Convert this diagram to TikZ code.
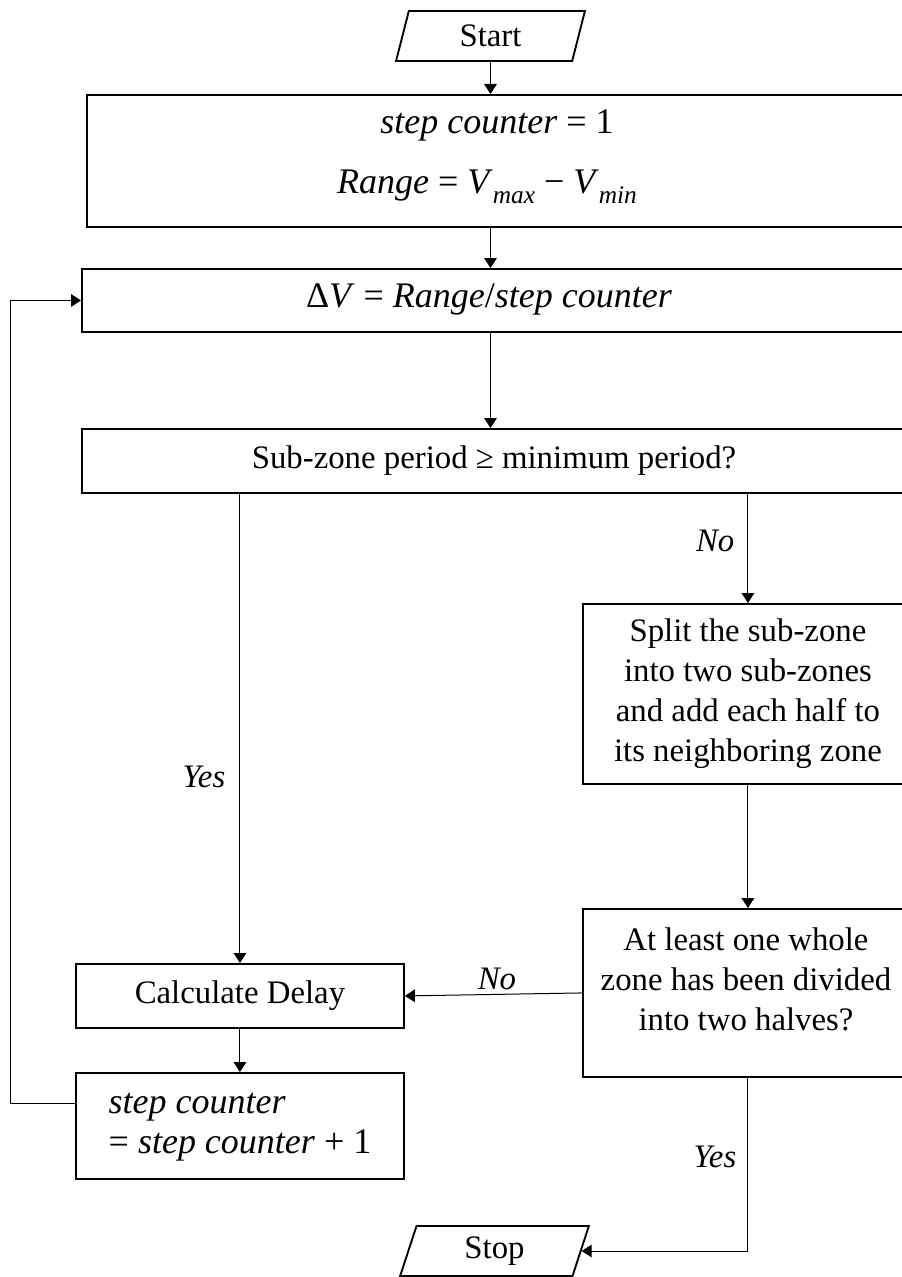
\documentclass[tikz,border=0pt]{standalone}
\usepackage{fontspec}
\setmainfont{Liberation Serif}
\usetikzlibrary{shapes.geometric,arrows.meta,calc}
\newcommand\mysub[1]{\raisebox{-0.25em}{\fontsize{19}{22}\selectfont\itshape #1}}
\begin{document}
\begin{tikzpicture}[x=0.75pt,y=-0.75pt,
  box/.style={draw, line width=1.4pt, rectangle, inner sep=0pt, anchor=north west},
  txt/.style={font=\fontsize{24.6}{30}\selectfont},
  mtxt/.style={font=\fontsize{27}{32}\selectfont},
  lbl/.style={font=\fontsize{24.6}{30}\selectfont\itshape},
  io/.style={draw, line width=1.4pt, trapezium, trapezium left angle=77.6,
    trapezium right angle=102.4, trapezium stretches=true,
    minimum width=141.75pt, minimum height=37.5pt, inner sep=0pt,
    font=\fontsize{24.6}{30}\selectfont},
  arr/.style={line width=0.75pt, -{Triangle[length=7.5pt,width=9.5pt]}}]
\useasboundingbox (0,0) rectangle (902,1277);
\clip (0,0) rectangle (902,1277);

% boxes
\node[io] (start) at (490.5,36) {Start};
\node[box, minimum width=619.5pt, minimum height=99pt] (init) at (86,94) {};
\node[box, minimum width=623.25pt, minimum height=47.25pt] (dv) at (81,268) {};
\node[box, minimum width=623.25pt, minimum height=48pt] (cond1) at (81,428) {};
\node[box, minimum width=247.5pt, minimum height=135pt, txt, align=center] (split) at (582,603)
  {Split the sub-zone\\into two sub-zones\\and add each half to\\its neighboring zone};
\node[box, minimum width=247.5pt, minimum height=126pt] (cond2) at (582,908) {};
\node[box, minimum width=246pt, minimum height=48pt, txt] (calc) at (75,963) {Calculate Delay};
\node[box, minimum width=246pt, minimum height=79.5pt] (inc) at (75,1072) {};
\node[io] (stop) at (494.5,1251) {Stop};

% texts
\node[mtxt, anchor=base] (t1a) at (497,134) {\textit{step counter} = 1};
\node[mtxt, anchor=base] (t1b) at (487,194) {\textit{Range} = \textit{V}\mysub{max} − \textit{V}\mysub{min}};
\node[mtxt, anchor=base] (t2) at (489,307) {Δ\textit{V} = \textit{Range}/\textit{step counter}};
\node[txt, anchor=base] (t3) at (494,468) {Sub-zone period ≥ minimum period?};
\node[txt, align=center] (t5) at (746,979) {At least one whole\\zone has been divided\\into two halves?};
\node[mtxt, anchor=base west] (t6a) at (104,1113) {\textit{step counter}};
\node[mtxt, anchor=base west] (t6b) at (104,1153) {= \textit{step counter} + 1};

% labels
\node[lbl, anchor=base east] (no1) at (739,551) {No};
\node[lbl, anchor=base east] (yes1) at (230,787) {Yes};
\node[lbl, anchor=base] (no2) at (497,989) {No};
\node[lbl, anchor=base east] (yes2) at (741,1167) {Yes};

% connectors
\coordinate (fb) at ($(inc.north west)!0.29!(inc.south west)$);
\draw[arr] (start.south) -- (start.south |- init.north);
\draw[arr] (start.south |- init.south) -- (start.south |- dv.north);
\draw[arr] (start.south |- dv.south) -- (start.south |- cond1.north);
\draw[arr] (split.north |- cond1.south) -- (split.north);
\draw[arr] (calc.north |- cond1.south) -- (calc.north);
\draw[arr] (split.south) -- (cond2.north);
\draw[arr] (cond2.west) -- (calc.east);
\draw[arr] (calc.south) -- (inc.north);
\draw[arr] (fb) -- ++(-65,0) |- (dv.west);
\draw[arr] (cond2.south) |- (stop.east);
\end{tikzpicture}
\end{document}
